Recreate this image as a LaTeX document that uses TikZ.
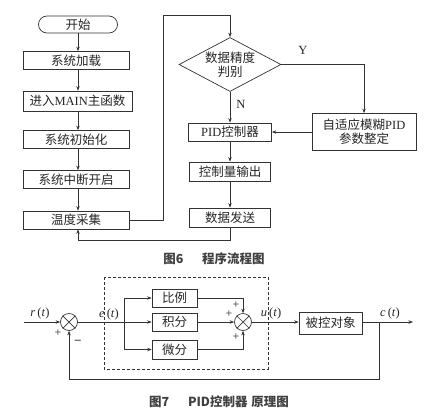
\documentclass[tikz,border=0pt]{standalone}
\usepackage{fontspec}
\setmainfont{Liberation Serif}
\newfontfamily\cjk{Noto Sans CJK SC}
\usetikzlibrary{shapes.geometric,shapes.misc,arrows.meta}
\newcommand\zh[1]{{\cjk #1}}
\begin{document}
\begin{tikzpicture}[x=1pt,y=-1pt,
  line width=0.7pt, draw=black!80,
  every node/.style={font=\fontsize{12.5}{14}\selectfont, text=black!85},
  bx/.style={draw, rectangle, inner sep=0pt, minimum height=18pt},
  arr/.style={-{Stealth[length=4.5pt,width=3.5pt]}},
  sumc/.style={draw, circle, minimum size=17pt, inner sep=0pt},
  plustxt/.style={font=\fontsize{12}{12}\selectfont, inner sep=0pt},
  captxt/.style={font=\cjk\bfseries\fontsize{12.5}{14}\selectfont, text=black!75},
]
\useasboundingbox (0,0) rectangle (430,415);
% ---------- flowchart ----------
\node[draw, rounded rectangle, minimum width=79pt, minimum height=17pt, inner sep=0pt] (st) at (78,24.5) {\zh{开始}};
\node[bx, minimum width=106pt] (b1) at (76,60.5) {\zh{系统加载}};
\node[bx, minimum width=109pt, minimum height=20pt] (b2) at (77.5,101) {\zh{进入}MAIN\zh{主函数}};
\node[bx, minimum width=106pt] (b3) at (76,139.5) {\zh{系统初始化}};
\node[bx, minimum width=106pt] (b4) at (76,179.5) {\zh{系统中断开启}};
\node[bx, minimum width=106pt] (b5) at (76,220) {\zh{温度采集}};
\draw[arr] (st.south) -- (st.south |- b1.north);
\draw[arr] (st.south |- b1.south) -- (st.south |- b2.north);
\draw[arr] (st.south |- b2.south) -- (st.south |- b3.north);
\draw[arr] (st.south |- b3.south) -- (st.south |- b4.north);
\draw[arr] (st.south |- b4.south) -- (st.south |- b5.north);

\node[draw, diamond, aspect=1.9, minimum width=102pt, minimum height=54pt, inner sep=0pt, align=center] (dm) at (230,64.5) {\zh{数据精度}\\\zh{判别}};
\node[bx, minimum width=83pt] (pid) at (230,132) {PID\zh{控制器}};
\node[bx, minimum width=104pt, minimum height=37pt, align=center] (ad) at (364,132) {\zh{自适应模糊}PID\\\zh{参数整定}};
\node[bx, minimum width=81pt, minimum height=19pt] (ou) at (230,171.5) {\zh{控制量输出}};
\node[bx, minimum width=81pt, minimum height=19pt] (se) at (230,217.5) {\zh{数据发送}};

\draw[arr] (b5.east) -| (163,15) -| (dm.north);
\draw[arr] (dm.east) -| (ad.north);
\draw[arr] (dm.south) -- (pid.north);
\draw[arr] (ad.west) -- (pid.east);
\draw[arr] (pid.south) -- (ou.north);
\draw[arr] (ou.south) -- (se.north);
\draw[arr] (se.south) |- (78,240) -- (st.south |- b5.south);
\node (ly) at (303,50) {Y};
\node (ln) at (241,104) {N};

\node[captxt] (c6) at (214,259) {图6\hspace{1.5em}程序流程图};

% ---------- PID block diagram ----------
\draw[dashed, dash pattern=on 3pt off 2pt, line width=0.9pt] (104,277) rectangle (268,369);
\node[sumc] (s1) at (69,322) {};
\draw (s1.north west) -- (s1.south east) (s1.north east) -- (s1.south west);
\coordinate (in) at (24,322);
\draw[arr] (in) -- (s1.west);
\node (lr) at (40,313) {\textit{r}\,(\textit{t})};
\node[plustxt] (p1) at (58,333) {+};
\node[plustxt] (m1) at (78,342) {\textbf{–}};
\coordinate (bp) at (124,322);
\draw (s1.east) -- (bp);
\node (le) at (109,314) {\textit{e}\,(\textit{t})};
\node[bx, minimum width=45pt] (kp) at (174.5,298) {\zh{比例}};
\node[bx, minimum width=45pt] (ki) at (174.5,322) {\zh{积分}};
\node[bx, minimum width=45pt, minimum height=19pt] (kd) at (174.5,349.5) {\zh{微分}};
\draw (bp |- kp.west) -- (bp |- kd.west);
\draw[arr] (bp |- kp.west) -- (kp.west);
\draw[arr] (bp) -- (ki.west);
\draw[arr] (bp |- kd.west) -- (kd.west);
\node[sumc] (s2) at (243,322) {};
\draw (s2.north west) -- (s2.south east) (s2.north east) -- (s2.south west);
\draw[arr] (kp.east) -| (s2.north);
\draw[arr] (ki.east) -- (s2.west);
\draw[arr] (kd.east) -| (s2.south);
\node[plustxt] (p2) at (236,305) {+};
\node[plustxt] (p3) at (229,314) {+};
\node[plustxt] (p4) at (236,337) {+};
\node[bx, minimum width=63pt, minimum height=22pt] (plant) at (330.5,323) {\zh{被控对象}};
\draw[arr] (s2.east) -- (plant.west |- s2.east);
\node (lu) at (271,313) {\textit{u}\,(\textit{t})};
\coordinate (out) at (413,322);
\coordinate (fb) at (379,322);
\draw[arr] (plant.east |- s2.east) -- (out);
\node (lc) at (390,313) {\textit{c}\,(\textit{t})};
\draw[arr] (fb) -- (379,379) -| (s1.south);

\node[captxt] (c7) at (219,402) {图7\hspace{1.5em}PID控制器\hspace{0.3em}原理图};
\end{tikzpicture}
\end{document}
